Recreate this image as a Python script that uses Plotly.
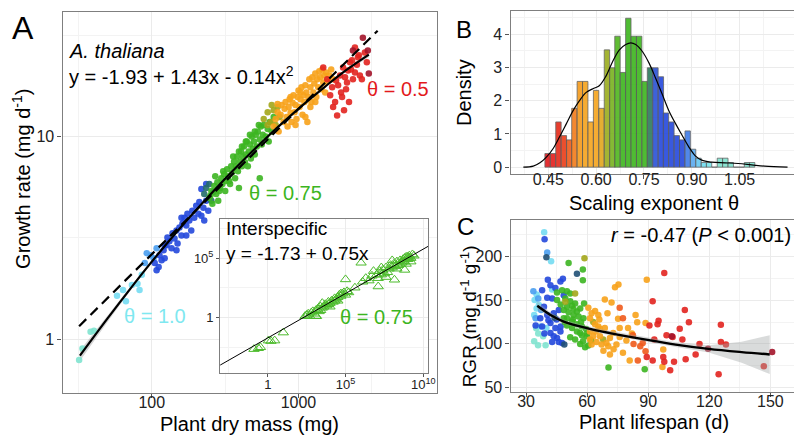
import plotly.graph_objects as go

FONT = "Liberation Sans, Arial, sans-serif"

# ---------------- Panel A : A. thaliana growth rate vs dry mass ----------------
a_aqua_mass = [32.0, 33.7, 38.3, 40.4]
a_aqua_rate = [0.79, 0.90, 1.09, 1.10]
a_sky_mass = [58.0, 63.7, 66.7, 73.3, 80.0, 82.6, 85.6]
a_sky_rate = [1.64, 1.75, 1.54, 1.85, 1.88, 1.75, 2.08]
a_lblue_mass = [92.5, 98.5, 103, 89.7, 108]
a_lblue_rate = [2.66, 2.60, 2.51, 2.38, 2.81]
a_blue_mass = [104.8, 108, 111.5, 113, 116.8, 120.5, 122.5, 126, 128, 132, 136.5, 138.6, 143, 147.5, 150,
               154.5, 159.5, 162, 167, 172, 175, 180.5, 186, 189, 195, 201, 208, 211, 218, 225, 228, 235, 243,
               172, 147.5, 218, 235, 122.5, 159.5]
a_blue_rate = [2.38, 2.19, 2.27, 2.60, 2.45, 2.75, 2.51, 2.91, 3.18, 3.04, 2.81, 3.33, 3.14, 3.44, 2.97,
               3.56, 3.25, 3.72, 3.98, 3.64, 4.16, 3.85, 3.44, 4.31, 3.98, 4.56, 4.16, 4.76, 4.07, 4.46, 3.85, 4.82, 4.31,
               3.25, 2.75, 5.51, 5.83, 2.91, 3.98]
a_teal_mass = [228, 247, 255, 263, 235]
a_teal_rate = [5.21, 5.83, 4.82, 5.33, 5.57]
a_green_mass = [247, 255, 259, 267, 275, 280, 284, 293, 298, 303, 312, 317, 321, 326, 332, 342, 348, 353, 364, 370,
                375, 381, 387, 393, 400, 406, 412, 419, 425, 432, 438, 445, 452, 459, 467, 474, 481, 489, 497, 504,
                512, 520, 528, 545, 545, 554, 562, 571, 580, 598, 617, 627, 637, 657, 678, 251, 271, 289, 307, 337,
                359, 393, 412, 438, 467, 504, 537]
a_green_rate = [4.98, 5.39, 4.66, 5.70, 5.21, 5.96, 4.82, 5.57, 6.23, 5.83, 6.52, 5.39, 6.03, 6.90, 6.38, 5.83, 7.14,
                6.67, 7.54, 6.23, 7.14, 7.98, 6.75, 5.57, 7.54, 8.44, 7.14, 7.98, 8.93, 7.46, 8.16, 9.45, 7.14, 8.44,
                9.14, 7.80, 10.0, 8.73, 9.45, 8.16, 10.2, 8.93, 10.6, 9.66, 6.23, 11.2, 9.14, 10.2, 11.4, 10.0, 10.9,
                9.45, 11.8, 10.6, 12.5, 5.10, 6.38, 5.39, 6.75, 6.03, 7.98, 8.44, 8.93, 9.45, 10.2, 10.6, 11.4]
a_olive_mass = [580, 617, 647, 678, 699, 721, 744, 657, 617]
a_olive_rate = [12.2, 13.2, 11.8, 13.5, 11.4, 14.0, 12.5, 14.3, 11.4]
a_orange_mass = [678, 699, 721, 733, 756, 768, 792, 805, 817, 830, 843, 857, 870, 884, 898, 912, 926, 941, 955, 970,
                 986, 1001, 1017, 1033, 1049, 1066, 1082, 1099, 1115, 1133, 1151, 1169, 1187, 1206, 1225, 1244, 1264,
                 1283, 1303, 1324, 1345, 1366, 1387, 1409, 1431, 1454, 1476, 1500, 1522, 1546, 1571, 1620, 1672, 1724,
                 721, 955, 1115, 884, 1033, 1206, 1303]
a_orange_rate = [11.2, 12.2, 13.2, 10.6, 12.8, 14.3, 11.8, 13.7, 14.8, 12.5, 11.2, 14.0, 15.3, 13.1, 11.8, 14.7, 16.0,
                 13.2, 14.3, 12.2, 15.7, 16.9, 14.0, 15.3, 17.5, 12.8, 16.0, 14.8, 17.9, 16.5, 11.8, 15.7, 19.2, 17.5,
                 14.8, 19.6, 16.5, 18.3, 20.5, 15.7, 19.2, 17.5, 21.0, 19.6, 17.1, 21.4, 18.5, 20.0, 16.5, 20.7, 18.7,
                 20.0, 21.4, 19.2, 14.5, 11.4, 12.5, 15.7, 16.5, 14.0, 14.8]
a_red_mass = [1476, 1571, 1646, 1698, 1724, 1778, 1835, 1864, 1923, 1984, 2015, 2078, 2111, 2178, 2212, 2246, 2317,
              2353, 2427, 2504, 2543, 2623, 2706, 2836, 2925, 1953, 2144, 2281, 2583, 1806, 2046, 2427]
a_red_rate = [21.9, 19.2, 16.0, 17.5, 14.0, 14.8, 12.7, 17.9, 20.0, 15.7, 21.9, 19.6, 17.1, 21.2, 14.8, 23.3, 23.8,
              19.2, 20.7, 22.6, 24.6, 20.0, 19.2, 26.0, 23.3, 16.5, 18.5, 21.4, 25.2, 18.9, 13.5, 27.5]
a_dred_mass = [2749, 2971, 3018, 2353]
a_dred_rate = [30.7, 26.6, 20.5, 26.6]

# quadratic fit (solid) with its confidence band, and theta = 0.75 reference (dashed)
a_fit_mass = [32.4, 49.7, 67.8, 92.5, 126, 172, 235, 321, 438, 598, 817, 1115, 1521, 2080, 3020]
a_fit_rate = [0.83, 1.26, 1.69, 2.25, 2.95, 3.83, 4.92, 6.27, 7.87, 9.79, 12.05, 14.66, 17.66, 21.1, 25.4]
a_fit_upper = [0.88, 1.31, 1.73, 2.29, 2.98, 3.86, 4.95, 6.30, 7.91, 9.84, 12.12, 14.78, 17.85, 21.45, 26.2]
a_fit_lower = [0.78, 1.21, 1.65, 2.21, 2.92, 3.80, 4.89, 6.24, 7.83, 9.74, 11.98, 14.54, 17.47, 20.75, 24.6]
a_ref_mass = [32.0, 3467]
a_ref_rate = [1.16, 33.3]

# ---------------- Inset : interspecific ----------------
inset_small_mass = [0.13, 0.25, 0.34, 1.1, 1.6, 2.8, 10]
inset_small_rate = [0.0021, 0.0025, 0.0030, 0.011, 0.010, 0.011, 0.052]
inset_mid_mass = [250, 316, 400, 500, 630, 790, 1000, 1260, 1260, 1580, 2000, 2500, 3200, 4000, 5000, 6300, 7900,
                  1.0e4, 1.26e4, 1.58e4, 2.0e4, 2.5e4, 3.2e4, 4.0e4, 5.0e4, 6.3e4, 7.9e4, 1.0e5, 1.26e5, 1.58e5,
                  1.0e5, 4.0e5, 3200, 1.0e4, 3.2e4, 1350, 2.0e4, 5.0e4, 8000, 2500]
inset_mid_rate = [1.26, 1.58, 2.0, 1.26, 2.5, 3.2, 2.0, 4.0, 1.26, 5.0, 3.2, 7.9, 6.3, 7.9, 12.6, 10, 20,
                  15.8, 25, 20, 40, 32, 50, 79, 63, 100, 126, 79, 158, 126,
                  1580, 316, 15.8, 7.9, 25, 1.26, 25, 100, 12.6, 4.0]
inset_big_mass = [1.0e6, 1.26e6, 2.0e6, 3.2e6, 5.0e6, 1.26e7, 1.0e7, 1.26e7, 1.58e7, 2.0e7, 2.5e7, 3.2e7, 4.0e7,
                  5.0e7, 6.3e7, 7.9e7, 1.4e8, 1.0e8, 1.26e8, 1.58e8, 2.0e8, 2.5e8, 3.2e8, 6.3e8, 4.0e8, 5.0e8,
                  6.3e8, 7.9e8, 1.0e9, 1.26e9, 1.58e9, 2.0e9, 7.9e8, 1.58e9, 4.0e7, 2.0e8, 6.3e6, 2.0e7, 1.0e8,
                  3.2e8, 5.0e8, 1.0e9, 1.26e9, 2.5e9, 6.3e8]
inset_big_rate = [4.0e4, 1000, 2000, 1260, 3200, 400, 4000, 2000, 7900, 4000, 1.0e4, 5000, 1.58e4,
                  6300, 1.26e4, 2.5e4, 1480, 1.58e4, 3.2e4, 2.0e4, 5.0e4, 2.5e4, 6.3e4, 1.0e4, 4.0e4, 7.9e4,
                  5.0e4, 1.26e5, 7.9e4, 1.58e5, 1.0e5, 2.0e5, 3.2e4, 5.0e4, 2500, 1.26e4, 7900, 1.58e4, 6.3e4,
                  3.2e4, 5.0e4, 1.26e5, 1.0e5, 1.58e5, 1.0e5]
inset_fit_mass = [8.7e-4, 2.1e10]
inset_fit_rate = [9.4e-5, 1.0e6]

# ---------------- Panel B : histogram of theta ----------------
theta_bins = [0.448, 0.465, 0.482, 0.499, 0.516, 0.532, 0.549, 0.566, 0.583, 0.600, 0.617, 0.634, 0.651,
              0.667, 0.684, 0.701, 0.718, 0.735, 0.752, 0.769, 0.786, 0.803, 0.819, 0.836, 0.853, 0.870,
              0.887, 0.904, 0.921, 0.938, 0.954, 0.971, 0.988, 1.005, 1.022, 1.039, 1.056, 1.073, 1.089]
theta_density = [0.41, 0.41, 1.36, 0.95, 0.82, 1.77, 2.58, 2.58, 1.36, 2.31, 1.77, 3.53, 2.99,
                 3.94, 2.85, 4.48, 3.94, 3.94, 2.58, 2.99, 2.99, 2.72, 1.63, 1.36, 0.95, 0.82,
                 1.09, 0.54, 0.27, 0.14, 0.14, 0.0, 0.27, 0.27, 0.14, 0.0, 0.0, 0.14, 0.14]
theta_colors = ["#e3191c", "#e41e1a", "#e62a18", "#ea3c18", "#ee5a1a", "#f27c1a", "#f59a1a", "#f5a21c",
                "#f6a51e", "#f6a51e", "#e3a61c", "#9bac1e", "#78b21f", "#4fb61e", "#3cb51e", "#3cb51e",
                "#3cb51e", "#3cb51e", "#3cb51e", "#2d7a5c", "#2a52d6", "#2448dc", "#2448dc", "#2448dc",
                "#2448dc", "#2448dc", "#3f7ce8", "#5aaaf0", "#66c8f2", "#70dcf0", "#78e3ea", "#7fe3cf",
                "#7fe3cf", "#7fe3cf", "#7fe3cf", "#7fe3cf", "#7fe3cf", "#7fe3cf", "#7fe3cf"]
kde_theta = [0.372, 0.403, 0.424, 0.445, 0.466, 0.486, 0.507, 0.528, 0.548, 0.569, 0.590, 0.610, 0.631,
             0.652, 0.673, 0.693, 0.709, 0.724, 0.745, 0.766, 0.786, 0.807, 0.828, 0.849, 0.869, 0.890,
             0.911, 0.931, 0.962, 1.004, 1.045, 1.087, 1.128, 1.200]
kde_density = [0.0, 0.03, 0.13, 0.31, 0.57, 0.92, 1.31, 1.70, 2.00, 2.25, 2.36, 2.45, 2.74,
               3.18, 3.53, 3.69, 3.74, 3.69, 3.48, 3.13, 2.69, 2.20, 1.70, 1.31, 0.97, 0.62,
               0.34, 0.21, 0.15, 0.13, 0.11, 0.07, 0.03, 0.0]

# ---------------- Panel C : RGR vs lifespan ----------------
c_aqua_life = [34.0, 35.9, 39.6, 38.4, 36.0, 35.0]
c_aqua_rgr = [103, 98.5, 98.5, 108.7, 112, 118]
c_sky_life = [38.9, 42.3, 35.2, 34.2, 36.3, 35.2, 34.0, 42.8, 40.0, 37.1]
c_sky_rgr = [228, 194.6, 156.6, 150.2, 144.5, 140.7, 133.2, 162.2, 118.1, 120]
c_lblue_life = [40.4, 33.6, 34.7, 37.4, 36.0]
c_lblue_rgr = [204.8, 160.3, 129.4, 138.8, 152]
c_blue_life = [39.1, 40.7, 46.9, 48.1, 42.0, 44.4, 37.9, 40.4, 42.8, 38.8, 48.5, 46.1, 43.6, 40.4, 37.0,
               34.7, 37.9, 42.0, 44.4, 42.0, 45.2, 47.7, 42.8, 46.1, 46.9, 43.6, 39.0, 41.0, 45.0, 47.0]
c_blue_rgr = [219.9, 173.5, 171.6, 174.7, 167.1, 164.1, 161.5, 152.8, 152.0, 142.6, 155.8, 138.8, 135.1, 133.2,
              129.4, 121.1, 120.0, 123.8, 118.1, 112.4, 106.8, 101.1, 102.3, 102.3, 114.3, 108.7, 112, 127, 128, 120]
c_navy_life = [40.0, 55.0, 48.8, 44.0]
c_navy_rgr = [199.2, 180.3, 99.2, 130]
c_green_life = [50.9, 57.9, 57.9, 45.2, 47.7, 50.1, 51.7, 45.2, 51.7, 54.1, 58.5, 56.6, 53.3, 48.5, 50.1, 52.6,
                55.0, 57.4, 59.5, 52.6, 50.1, 55.0, 57.4, 59.8, 56.6, 59.0, 60.6, 53.3, 55.8, 58.2, 48.5, 50.9,
                55.0, 52.6, 50.1, 49.3, 56.6, 51.7, 54.1, 70.5, 88.3, 47.0, 49.0, 53.0, 57.0, 60.0, 62.0, 58.0]
c_green_rgr = [192.8, 185.2, 172.8, 158.8, 161.5, 160.3, 157.7, 150.2, 149.0, 146.4, 146.4, 140.7, 140.0, 138.8,
               129.4, 125.6, 122.6, 120.0, 117.0, 118.1, 121.1, 114.3, 109.8, 108.7, 100.0, 96.2, 98.1, 133.2,
               131.3, 129.4, 129.4, 136.2, 137.0, 143.7, 142.6, 152.0, 112.4, 107.5, 104.9, 72.9, 71.0, 145, 125,
               128, 125, 112, 104, 103]
c_olive_life = [58.7, 54.1, 67.9, 49.3, 63.0]
c_olive_rgr = [198, 157.7, 104.9, 148.3, 125]
c_orange_life = [89.3, 73.7, 75.4, 68.7, 72.0, 70.0, 75.2, 83.8, 84.6, 88.7, 60.6, 63.9, 62.2, 64.6, 63.0, 61.4,
                 64.3, 66.3, 63.9, 61.4, 62.2, 65.5, 61.4, 67.1, 71.2, 76.0, 80.1, 72.8, 68.7, 65.5, 66.3, 69.5,
                 70.4, 74.4, 79.3, 71.2, 77.6, 80.9, 97.4, 97.0, 68.0, 73.0, 76.0, 82.0, 66.0]
c_orange_rgr = [173.5, 165, 168, 150.9, 147.5, 135, 128.7, 133.2, 124.9, 123.8, 141.5, 137.7, 99.2, 102.3, 108.7,
                114.3, 114.3, 117.3, 122.6, 129.4, 135.1, 133.2, 104.9, 99.2, 106.8, 118.1, 118.1, 112.4, 118.1,
                120, 108.7, 101.1, 97.4, 99.2, 103.8, 87.9, 89.8, 81.1, 93.6, 73.6, 92, 94, 108, 112, 128]
c_rorange_life = [76.0, 77.6, 82.8, 86.1, 87.3, 82.5, 84.9, 88.7]
c_rorange_rgr = [141.5, 129.4, 100, 97.4, 101.1, 109.8, 81.1, 91.7]
c_red_life = [97.9, 92.2, 90.6, 95.1, 94.6, 108.0, 105.5, 110.0, 106.8, 115.2, 125.7, 125.7, 128.2, 124.6, 146.8,
              113.3, 108.4, 102.7, 100.8, 97.9, 97.4, 92.2, 89.3, 99.0, 102.0, 93.0]
c_red_rgr = [181.1, 149, 121.1, 126.4, 122.6, 138.8, 117.3, 124.9, 104.9, 100, 121.9, 102.3, 99.2, 65.3, 74.4,
             87.9, 82.3, 79.6, 69.8, 79.6, 84.9, 81.1, 84.9, 110, 108, 105]
c_dred_life = [150.9, 101.6, 119.4]
c_dred_rgr = [90.6, 108.7, 94.3]

c_fit_life = [35.5, 42.0, 48.5, 59.8, 71.2, 88.9, 103.5, 119.7, 135.9, 149.7]
c_fit_rgr = [143.7, 133.2, 125.6, 118.1, 112.4, 104.9, 99.2, 94.3, 90.6, 87.9]
c_fit_upper = [148.5, 136.0, 128.0, 120.5, 115.0, 107.5, 102.0, 98.5, 102.5, 110.0]
c_fit_lower = [139.0, 130.5, 123.0, 115.7, 110.0, 102.3, 96.5, 90.0, 78.5, 65.5]

COL = dict(aqua="#7fe3cf", sky="#74dcf2", lblue="#4a9ff0", blue="#2448dc", teal="#236b6b", navy="#1f4f74",
           green="#3cb521", olive="#a3a61a", orange="#f7a21b", rorange="#ef5a1c", red="#e2231f", dred="#a3142a")

fig = go.Figure()

# ---- Panel A traces ----
fig.add_trace(go.Scatter(x=a_fit_mass + a_fit_mass[::-1], y=a_fit_upper + a_fit_lower[::-1], fill="toself",
                         fillcolor="rgba(150,150,150,0.4)", line=dict(width=0), mode="lines",
                         xaxis="x", yaxis="y", showlegend=False, hoverinfo="skip"))
for xs, ys, key in [(a_aqua_mass, a_aqua_rate, "aqua"), (a_sky_mass, a_sky_rate, "sky"),
                    (a_lblue_mass, a_lblue_rate, "lblue"), (a_blue_mass, a_blue_rate, "blue"),
                    (a_teal_mass, a_teal_rate, "teal"), (a_green_mass, a_green_rate, "green"),
                    (a_olive_mass, a_olive_rate, "olive"), (a_orange_mass, a_orange_rate, "orange"),
                    (a_red_mass, a_red_rate, "red"), (a_dred_mass, a_dred_rate, "dred")]:
    fig.add_trace(go.Scatter(x=xs, y=ys, mode="markers", xaxis="x", yaxis="y", showlegend=False,
                             marker=dict(size=6.5, color=COL[key], opacity=0.9, line=dict(width=0))))
fig.add_trace(go.Scatter(x=a_fit_mass, y=a_fit_rate, mode="lines", line=dict(color="black", width=2.2, shape="spline"),
                         xaxis="x", yaxis="y", showlegend=False))
fig.add_trace(go.Scatter(x=a_ref_mass, y=a_ref_rate, mode="lines", line=dict(color="black", width=2.2, dash="10px,6px"),
                         xaxis="x", yaxis="y", showlegend=False))

# ---- Inset traces ----
for xs, ys in [(inset_small_mass, inset_small_rate), (inset_mid_mass, inset_mid_rate),
               (inset_big_mass, inset_big_rate)]:
    fig.add_trace(go.Scatter(x=xs, y=ys, mode="markers", xaxis="x2", yaxis="y2", showlegend=False,
                             marker=dict(symbol="triangle-up-open", size=9, color="#4cbb2c", line=dict(width=1))))
fig.add_trace(go.Scatter(x=inset_fit_mass, y=inset_fit_rate, mode="lines", line=dict(color="black", width=1),
                         xaxis="x2", yaxis="y2", showlegend=False))

# ---- Panel B traces ----
fig.add_trace(go.Bar(x=theta_bins, y=theta_density, width=0.0169, xaxis="x3", yaxis="y3", showlegend=False,
                     marker=dict(color=theta_colors, opacity=0.9, line=dict(color="#555555", width=0.8))))
fig.add_trace(go.Scatter(x=kde_theta, y=kde_density, mode="lines", line=dict(color="black", width=1.2, shape="spline"),
                         xaxis="x3", yaxis="y3", showlegend=False))

# ---- Panel C traces ----
for xs, ys, key in [(c_aqua_life, c_aqua_rgr, "aqua"), (c_sky_life, c_sky_rgr, "sky"),
                    (c_lblue_life, c_lblue_rgr, "lblue"), (c_blue_life, c_blue_rgr, "blue"),
                    (c_navy_life, c_navy_rgr, "navy"), (c_green_life, c_green_rgr, "green"),
                    (c_olive_life, c_olive_rgr, "olive"), (c_orange_life, c_orange_rgr, "orange"),
                    (c_rorange_life, c_rorange_rgr, "rorange"), (c_red_life, c_red_rgr, "red"),
                    (c_dred_life, c_dred_rgr, "dred")]:
    fig.add_trace(go.Scatter(x=xs, y=ys, mode="markers", xaxis="x4", yaxis="y4", showlegend=False,
                             marker=dict(size=6.5, color=COL[key], opacity=0.9, line=dict(width=0))))
fig.add_trace(go.Scatter(x=c_fit_life + c_fit_life[::-1], y=c_fit_upper + c_fit_lower[::-1], fill="toself",
                         fillcolor="rgba(160,165,165,0.4)", line=dict(width=0), mode="lines",
                         xaxis="x4", yaxis="y4", showlegend=False, hoverinfo="skip"))
fig.add_trace(go.Scatter(x=c_fit_life, y=c_fit_rgr, mode="lines", line=dict(color="black", width=2.4, shape="spline"),
                         xaxis="x4", yaxis="y4", showlegend=False))


def axis(size=16, **kw):
    base = dict(showline=True, mirror=True, linecolor="#7f7f7f", linewidth=1.2, ticks="outside", ticklen=4,
                tickcolor="#555555", tickwidth=1, showgrid=True, gridcolor="#ebebeb", gridwidth=1,
                zeroline=False, tickmode="array", tickfont=dict(family=FONT, size=size, color="#222222"))
    base.update(kw)
    return base


def minor(vals):
    return dict(tickmode="array", tickvals=vals, showgrid=True, gridcolor="#f3f3f3", gridwidth=0.8, ticks="")


W, H = 802, 435
fig.update_layout(
    width=W, height=H, autosize=False, margin=dict(l=0, r=0, t=0, b=0),
    paper_bgcolor="white", plot_bgcolor="white",
    xaxis=axis(type="log", domain=[55 / W, 433 / W], range=[1.392, 3.946], anchor="y",
               tickvals=[100, 1000], ticktext=["100", "1000"], minor=minor([31.62, 316.2, 3162]),
               ticklabelstandoff=-9),
    yaxis=axis(type="log", domain=[1 - 389 / H, 1 - 4 / H], range=[-0.263, 1.615], anchor="x",
               tickvals=[1, 10], ticktext=["1", "10"], minor=minor([3.162, 31.62])),
    xaxis2=axis(size=13, type="log", domain=[214 / W, 424 / W], range=[-3.06, 10.32], anchor="y2",
                tickvals=[1, 1e5, 1e10], ticktext=["1", "10<sup>5</sup>", "10<sup>10</sup>"],
                minor=minor([10 ** -2.5, 10 ** 2.5, 10 ** 7.5]), ticklen=3, ticklabelstandoff=-3),
    yaxis2=axis(size=13, type="log", domain=[1 - 369 / H, 1 - 213 / H], range=[-4.67, 8.33], anchor="x2",
                tickvals=[1, 1e5], ticktext=["1", "10<sup>5</sup>"],
                minor=minor([10 ** -2.5, 10 ** 2.5, 10 ** 7.5]), ticklen=3),
    xaxis3=axis(size=16, domain=[507 / W, 798 / W], range=[0.332, 1.236], anchor="y3",
                tickvals=[0.45, 0.60, 0.75, 0.90, 1.05], ticktext=["0.45", "0.60", "0.75", "0.90", "1.05"],
                minor=minor([0.375, 0.525, 0.675, 0.825, 0.975, 1.125]), ticklabelstandoff=-13),
    yaxis3=axis(size=16, domain=[1 - 168 / H, 1 - 3 / H], range=[-0.208, 4.70], anchor="x3",
                tickvals=[0, 1, 2, 3, 4], ticktext=["0", "1", "2", "3", "4"],
                minor=minor([0.5, 1.5, 2.5, 3.5, 4.5])),
    xaxis4=axis(size=16, domain=[507 / W, 798 / W], range=[22.4, 164.1], anchor="y4",
                tickvals=[30, 60, 90, 120, 150], ticktext=["30", "60", "90", "120", "150"],
                minor=minor([45, 75, 105, 135]), ticklabelstandoff=-9),
    yaxis4=axis(size=16, domain=[1 - 388 / H, 1 - 214 / H], range=[45.4, 242.5], anchor="x4",
                tickvals=[50, 100, 150, 200], ticktext=["50", "100", "150", "200"],
                minor=minor([75, 125, 175, 225])),
)


def note(text, px, py, size=20, color="black", xanchor="left", angle=0):
    fig.add_annotation(text=text, x=px / W, y=1 - py / H, xref="paper", yref="paper", showarrow=False,
                       xanchor=xanchor, yanchor="middle", textangle=angle,
                       font=dict(family=FONT, size=size, color=color))


# panel letters
note("A", 15, 20, size=32, xanchor="center")
note("B", 460, 22, size=24, xanchor="center")
note("C", 462, 221, size=24, xanchor="center")
# axis titles
note("Growth rate (mg d<sup>-1</sup>)", 13, 173, size=20, xanchor="center", angle=-90)
note("Plant dry mass (mg)", 244, 421, size=20, xanchor="center")
note("Density", 460, 85, size=20, xanchor="center", angle=-90)
note("Scaling exponent θ", 652, 197, size=20, xanchor="center")
note("RGR (mg d<sup>-1</sup> g<sup>-1</sup>)", 465, 312, size=19, xanchor="center", angle=-90)
note("Plant lifespan (d)", 652, 419, size=20, xanchor="center")
# panel A texts
note("<i>A. thaliana</i>", 60, 44, size=20)
note("y = -1.93 + 1.43x - 0.14x<sup>2</sup>", 60, 68, size=20)
note("θ = 0.5", 360, 82, size=20, color="#e3191c")
note("θ = 0.75", 241, 187, size=20, color="#3cb521")
note("θ = 1.0", 115, 312, size=20, color="#7fe8f0")
# inset texts
note("Interspecific", 218, 223, size=19)
note("y = -1.73 + 0.75x", 218, 248, size=19)
note("θ = 0.75", 333, 313, size=20, color="#3cb521")
# panel C text
note("<i>r</i> = -0.47 (<i>P</i> &lt; 0.001)", 792, 230, size=20, xanchor="right")

fig.write_html("out.html")
